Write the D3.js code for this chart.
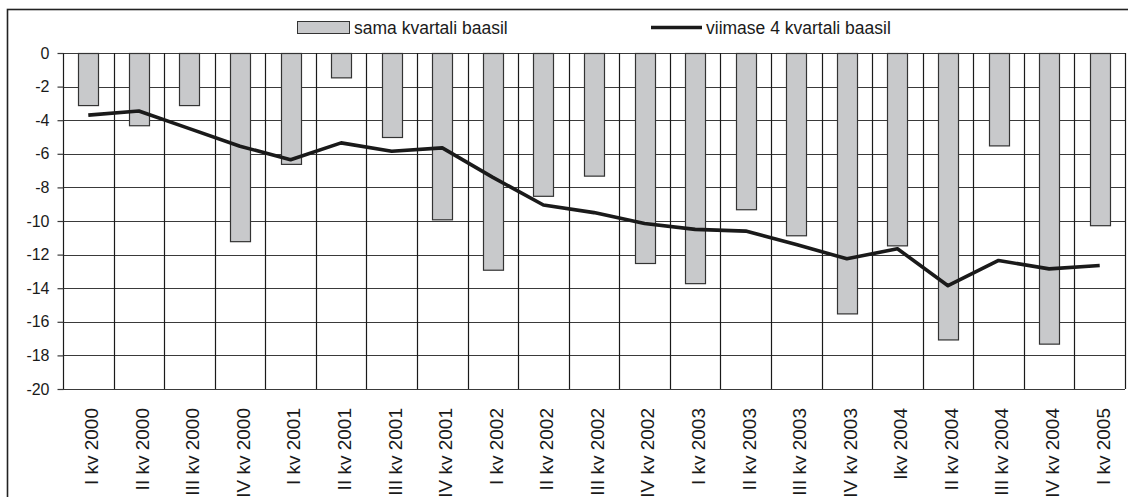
<!DOCTYPE html>
<html>
<head>
<meta charset="utf-8">
<script src="https://cdn.jsdelivr.net/npm/d3@7"></script>
<style>
  body { margin: 0; background: #fff; }
  svg { display: block; font-family: "Liberation Sans", Arial, sans-serif; }
</style>
</head>
<body>
<svg id="chart" width="1128" height="497"></svg>
<script>
// quarters on the x axis
const quarters = ['I kv 2000', 'II kv 2000', 'III kv 2000', 'IV kv 2000',
  'I kv 2001', 'II kv 2001', 'III kv 2001', 'IV kv 2001',
  'I kv 2002', 'II kv 2002', 'III kv 2002', 'IV kv 2002',
  'I kv 2003', 'II kv 2003', 'III kv 2003', 'IV kv 2003',
  'Ikv 2004', 'II kv 2004', 'III kv 2004', 'IV kv 2004', 'I kv 2005'];

// bars: sama kvartali baasil
const sameQuarter = [-3.1, -4.3, -3.1, -11.2, -6.6, -1.45, -5.0, -9.9,
  -12.9, -8.5, -7.3, -12.5, -13.7, -9.3, -10.85, -15.5,
  -11.45, -17.05, -5.5, -17.3, -10.25];

// line: viimase 4 kvartali baasil
const last4Quarters = [-3.7, -3.45, -4.5, -5.55, -6.35, -5.35, -5.85, -5.65,
  -7.4, -9.05, -9.5, -10.15, -10.5, -10.6, -11.4, -12.25,
  -11.65, -13.85, -12.35, -12.85, -12.65];

const yTicks = [0, -2, -4, -6, -8, -10, -12, -14, -16, -18, -20];
const legendLabels = ['sama kvartali baasil', 'viimase 4 kvartali baasil'];

const svg = d3.select('#chart');
const plot = { left: 63, right: 1125, top: 53, bottom: 389 };

// outer frame
svg.append('rect')
  .attr('x', 7.5).attr('y', 9.5)
  .attr('width', 1140).attr('height', 520)
  .attr('fill', 'none')
  .attr('stroke', '#222')
  .attr('stroke-width', 1.6);

const x = d3.scaleBand()
  .domain(quarters)
  .range([plot.left, plot.right]);

const y = d3.scaleLinear()
  .domain([0, -20])
  .range([plot.top, plot.bottom]);

// horizontal gridlines
svg.append('g')
  .selectAll('line')
  .data(yTicks)
  .enter()
  .append('line')
  .attr('x1', plot.left)
  .attr('x2', plot.right)
  .attr('y1', d => Math.round(y(d)) + 0.5)
  .attr('y2', d => Math.round(y(d)) + 0.5)
  .attr('stroke', '#3a3a3a')
  .attr('stroke-width', 1.2);

// vertical category lines
svg.append('g')
  .selectAll('line')
  .data(quarters.concat(['end']))
  .enter()
  .append('line')
  .attr('x1', (d, i) => Math.round(plot.left + i * x.step()) + 0.5)
  .attr('x2', (d, i) => Math.round(plot.left + i * x.step()) + 0.5)
  .attr('y1', plot.top)
  .attr('y2', plot.bottom)
  .attr('stroke', '#1a1a1a')
  .attr('stroke-width', 1.2);

// y axis
const yAxis = svg.append('g')
  .attr('transform', `translate(${plot.left + 0.5},0)`)
  .call(d3.axisLeft(y).tickValues(yTicks).tickSize(6).tickPadding(8).tickFormat(d => String(d).replace('−', '-')));
yAxis.select('.domain').remove();
yAxis.selectAll('line').attr('stroke', '#3a3a3a').attr('stroke-width', 1.2);
yAxis.selectAll('text')
  .attr('font-size', '16px')
  .attr('fill', '#1a1a1a')
  .attr('font-family', '"Liberation Sans", Arial, sans-serif');

// bars
const barWidth = 20;
svg.append('g')
  .selectAll('rect')
  .data(sameQuarter)
  .enter()
  .append('rect')
  .attr('x', (d, i) => Math.round(x(quarters[i]) + x.bandwidth() / 2 - barWidth / 2) + 0.5)
  .attr('y', y(0) + 0.5)
  .attr('width', barWidth)
  .attr('height', d => y(d) - y(0))
  .attr('fill', '#c8c9cb')
  .attr('stroke', '#333')
  .attr('stroke-width', 1.2);

// line
const line = d3.line()
  .x((d, i) => x(quarters[i]) + x.bandwidth() / 2)
  .y(d => y(d));

svg.append('path')
  .datum(last4Quarters)
  .attr('d', line)
  .attr('fill', 'none')
  .attr('stroke', '#1a1a1a')
  .attr('stroke-width', 3.6)
  .attr('stroke-linejoin', 'round');

// x labels
svg.append('g')
  .selectAll('text')
  .data(quarters)
  .enter()
  .append('text')
  .attr('transform', d => `translate(${x(d) + x.bandwidth() / 2 + 3},408) rotate(-90)`)
  .attr('text-anchor', 'end')
  .attr('dy', '0.36em')
  .attr('font-size', '19px')
  .attr('fill', '#1a1a1a')
  .text(d => d);

// legend
const legend = svg.append('g');
legend.append('rect')
  .attr('x', 297.5).attr('y', 21.5)
  .attr('width', 52).attr('height', 12)
  .attr('fill', '#c8c9cb')
  .attr('stroke', '#333')
  .attr('stroke-width', 1);
legend.append('text')
  .attr('x', 354).attr('y', 34)
  .attr('font-size', '17.5px')
  .attr('fill', '#1a1a1a')
  .text(legendLabels[0]);
legend.append('line')
  .attr('x1', 651).attr('x2', 702)
  .attr('y1', 27.5).attr('y2', 27.5)
  .attr('stroke', '#1a1a1a')
  .attr('stroke-width', 3.6);
legend.append('text')
  .attr('x', 706).attr('y', 34)
  .attr('font-size', '17.5px')
  .attr('fill', '#1a1a1a')
  .text(legendLabels[1]);
</script>
</body>
</html>
